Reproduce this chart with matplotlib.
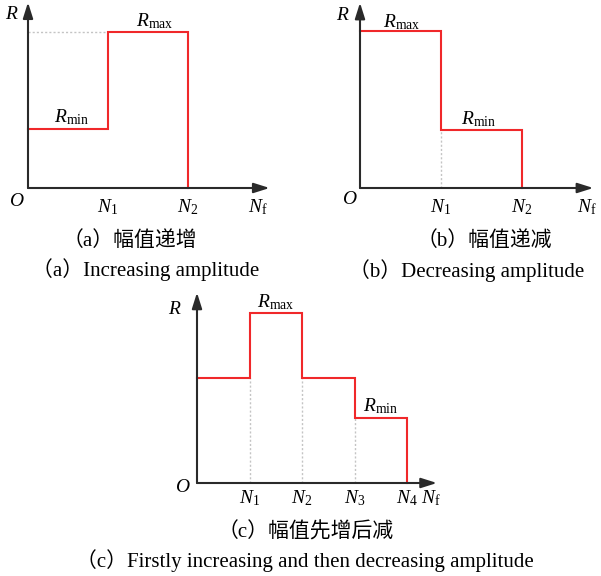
import matplotlib
matplotlib.use('Agg')
import matplotlib.pyplot as plt

# step breakpoints (N values) and amplitude levels (R) for each panel
a_breaks = [0, 1, 2]
a_levels = [0.38, 1.0]
a_ticks = ['$N_{\\rm 1}$', '$N_{\\rm 2}$']

b_breaks = [0, 1, 2]
b_levels = [1.0, 0.37]
b_ticks = ['$N_{\\rm 1}$', '$N_{\\rm 2}$']

c_breaks = [0, 1, 2, 3, 4]
c_levels = [0.62, 1.0, 0.62, 0.38]
c_ticks = ['$N_{\\rm 1}$', '$N_{\\rm 2}$', '$N_{\\rm 3}$', '$N_{\\rm 4}$']

captions_cn = ['（a）幅值递增', '（b）幅值递减', '（c）幅值先增后减']
captions_en = ['（a）Increasing amplitude', '（b）Decreasing amplitude',
               '（c）Firstly increasing and then decreasing amplitude']

W, H = 601, 576
RED = '#f0282a'
AXC = '#2a2a2a'
GUIDE = '#c4c4c4'
SERIF = ['Liberation Serif', 'Noto Sans CJK SC']

plt.rcParams['mathtext.fontset'] = 'custom'
plt.rcParams['mathtext.rm'] = 'Liberation Serif'
plt.rcParams['mathtext.it'] = 'Liberation Serif:italic'
plt.rcParams['font.family'] = SERIF


def make_axes(fig, origin, scale, xmax, ymax):
    x0, y0 = origin
    sx, sy = scale
    rect = [x0 / W, (H - y0) / H, xmax * sx / W, ymax * sy / H]
    ax = fig.add_axes(rect)
    ax.set_xlim(0, xmax)
    ax.set_ylim(0, ymax)
    ax.axis('off')
    return ax


def draw_axes_arrows(ax, xmax, ymax):
    style = '-|>,head_length=0.95,head_width=0.3'
    for tip in [(xmax, 0), (0, ymax)]:
        ax.annotate('', xy=tip, xytext=(0, 0), annotation_clip=False,
                    arrowprops=dict(arrowstyle=style, color=AXC, lw=1.5,
                                    mutation_scale=10, shrinkA=0, shrinkB=0))


def draw_steps(ax, breaks, levels):
    xs, ys = [breaks[0]], [levels[0]]
    for i, lev in enumerate(levels):
        if i > 0:
            xs.append(breaks[i])
            ys.append(lev)
        xs.append(breaks[i + 1])
        ys.append(lev)
    xs.append(breaks[-1])
    ys.append(0)
    ax.plot(xs, ys, color=RED, lw=1.5, clip_on=False, solid_joinstyle='miter', zorder=3)


def draw_labels(ax, breaks, ticks, xmax, gap, nf_dx, r_pos, o_pos):
    for x, t in zip(breaks[1:], ticks):
        ax.annotate(t, xy=(x, 0), xytext=(0, -gap), textcoords='offset pixels',
                    ha='center', va='center', fontsize=14, annotation_clip=False)
    ax.annotate('$N_{\\rm f}$', xy=(xmax, 0), xytext=(nf_dx, -gap), textcoords='offset pixels',
                ha='center', va='center', fontsize=14, annotation_clip=False)
    ax.annotate('$R$', xy=(0, r_pos[1]), xytext=(r_pos[0], 0), textcoords='offset pixels',
                ha='center', va='center', fontsize=14, annotation_clip=False)
    ax.annotate('$O$', xy=(0, 0), xytext=o_pos, textcoords='offset pixels',
                ha='center', va='center', fontsize=14, annotation_clip=False)


def label_level(ax, x, y, text, lift):
    ax.annotate(text, xy=(x, y), xytext=(0, lift), textcoords='offset pixels',
                ha='center', va='baseline', fontsize=14, annotation_clip=False)


def main():
    fig = plt.figure(figsize=(W / 100, H / 100), dpi=100)

    # (a)
    ax = make_axes(fig, (28, 188), (80, 156), 3.02, 1.19)
    ax.plot([0, a_breaks[1]], [a_levels[1], a_levels[1]], color=GUIDE, lw=1,
            ls=(0, (1.5, 1.5)), clip_on=False)
    draw_steps(ax, a_breaks, a_levels)
    draw_axes_arrows(ax, 3.02, 1.19)
    draw_labels(ax, a_breaks, a_ticks, 3.02, 19, -12, (-16, 1.11), (-11, -14))
    label_level(ax, 1.58, a_levels[1], '$R_{\\rm max}$', 6)
    label_level(ax, 0.55, a_levels[0], '$R_{\\rm min}$', 6)

    # (b)
    ax = make_axes(fig, (360, 188), (81, 157), 2.88, 1.18)
    ax.plot([b_breaks[1], b_breaks[1]], [0, b_levels[1]], color=GUIDE, lw=1,
            ls=(0, (1.5, 1.5)), clip_on=False)
    draw_steps(ax, b_breaks, b_levels)
    draw_axes_arrows(ax, 2.88, 1.18)
    draw_labels(ax, b_breaks, b_ticks, 2.88, 19, -6, (-17, 1.1), (-10, -12))
    label_level(ax, 0.51, b_levels[0], '$R_{\\rm max}$', 4)
    label_level(ax, 1.46, b_levels[1], '$R_{\\rm min}$', 6)

    # (c)
    ax = make_axes(fig, (197, 483), (52.5, 170), 4.57, 1.12)
    for i in range(1, len(c_breaks) - 1):
        low = min(c_levels[i - 1], c_levels[i])
        ax.plot([c_breaks[i], c_breaks[i]], [0, low], color=GUIDE, lw=1,
                ls=(0, (1.5, 1.5)), clip_on=False)
    draw_steps(ax, c_breaks, c_levels)
    draw_axes_arrows(ax, 4.57, 1.12)
    draw_labels(ax, c_breaks, c_ticks, 4.57, 15, -6, (-22, 1.02), (-14, -4))
    label_level(ax, 1.5, c_levels[1], '$R_{\\rm max}$', 6)
    label_level(ax, 3.5, c_levels[3], '$R_{\\rm min}$', 7)

    cn_pos = [(130, 241), (484, 241), (306, 532)]
    en_pos = [(146, 270), (467, 271), (305, 561)]
    for (x, y), t in zip(cn_pos, captions_cn):
        fig.text(x / W, 1 - y / H, t, ha='center', va='center', fontsize=15, family=SERIF)
    for (x, y), t in zip(en_pos, captions_en):
        fig.text(x / W, 1 - y / H, t, ha='center', va='center', fontsize=15, family=SERIF)

    fig.savefig('out.png', dpi=100)


if __name__ == "__main__":
    main()
